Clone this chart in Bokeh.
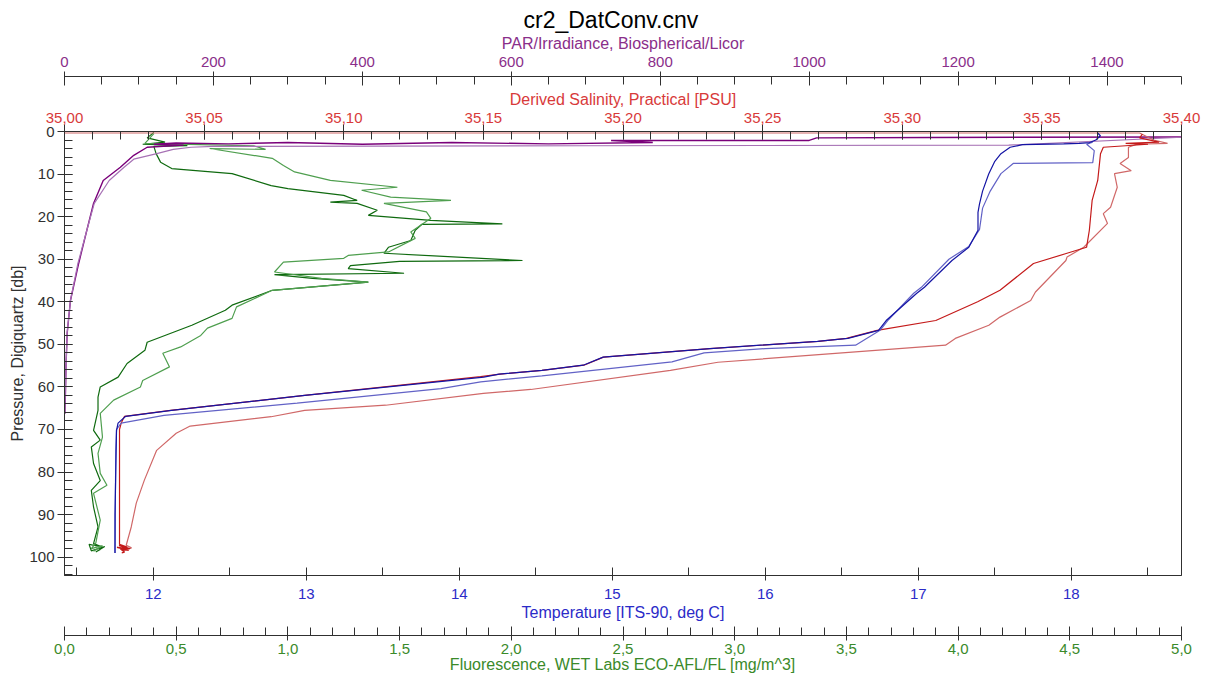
from bokeh.plotting import figure
from bokeh.models import Range1d, LinearAxis, FixedTicker, CustomJSTickFormatter
from bokeh.embed import file_html
from bokeh.resources import INLINE

FONT = "Liberation Sans"

# ---------------- data (pressure [db], value) ----------------
# Temperature [ITS-90, deg C]
temp1_p = [0.3, 1.0, 2.0, 2.6, 2.8, 2.9, 3.1, 3.7, 5.2, 7.0, 10.0, 14.0, 17.0, 19.0, 23.2, 27.2, 30.3,
           36.6, 38.0, 44.4, 46.7, 48.6, 49.3, 51.0, 53.0, 54.9, 56.1, 57.0, 57.7, 62.0, 65.5, 66.9,
           68.5, 70.2, 80.0, 90.0, 99.0]
temp1_v = [18.17, 18.19, 18.16, 18.12, 18.05, 17.95, 17.68, 17.60, 17.54, 17.50, 17.46, 17.42, 17.40,
           17.39, 17.39, 17.33, 17.22, 17.04, 16.99, 16.79, 16.74, 16.54, 16.34, 15.64, 14.94, 14.81,
           14.54, 14.26, 14.16, 12.99, 12.12, 11.82, 11.77, 11.76, 11.755, 11.75, 11.75]
temp2_p = [2.5, 3.0, 4.5, 7.3, 7.5, 9.9, 14.0, 18.0, 23.0, 27.0, 30.0, 36.6, 38.0, 44.4, 46.7, 50.2,
           51.0, 52.0, 54.1, 57.4, 58.8, 60.4, 63.8, 66.7, 68.5, 70.0, 75.0, 99.0]
temp2_v = [18.14, 18.10, 18.15, 18.14, 17.62, 17.54, 17.47, 17.42, 17.40, 17.33, 17.20, 17.02, 16.97,
           16.80, 16.75, 16.59, 16.00, 15.60, 15.39, 14.54, 14.14, 13.88, 12.94, 12.07, 11.79, 11.76,
           11.755, 11.75]

# Derived Salinity, Practical [PSU]
sal1_p = [0.6, 1.5, 2.5, 2.8, 3.0, 3.7, 5.2, 11.5, 16.2, 23.2, 27.2, 28.6, 31.0, 37.3, 40.0, 44.4,
          46.7, 48.6, 49.3, 51.0, 53.0, 54.9, 56.1, 57.0, 57.6, 62.0, 65.5, 66.9, 68.5, 70.0, 90.0,
          97.0, 97.6, 97.3, 98.0, 97.7, 98.4, 98.1, 98.8, 99.0]
sal1_v = [35.386, 35.385, 35.392, 35.380, 35.388, 35.372, 35.371, 35.370, 35.368, 35.367,
          35.366, 35.359, 35.347, 35.335, 35.327, 35.312, 35.291, 35.280, 35.270, 35.231, 35.193,
          35.186, 35.171, 35.156, 35.149, 35.086, 35.038, 35.0215, 35.0203, 35.0197, 35.0197,
          35.0197, 35.0225, 35.0195, 35.0235, 35.0188, 35.0230, 35.0200, 35.0215, 35.0205]
sal2_p = [0.35, 0.35, 2.0, 2.8, 3.0, 3.7, 6.1, 7.5, 9.2, 9.9, 13.1, 17.8, 19.3, 21.6, 27.2, 29.5,
          30.3, 37.7, 39.7, 43.6, 45.5, 48.6, 50.2, 54.2, 56.1, 60.6, 61.5, 64.3, 65.5, 67.0, 69.2,
          70.9, 74.9, 81.9, 87.3, 92.9, 97.2, 97.8, 98.5]
sal2_v = [34.90, 35.385, 35.390, 35.395, 35.384, 35.381, 35.381, 35.378, 35.382, 35.376, 35.377,
          35.3746, 35.372, 35.3735, 35.365, 35.359, 35.3586, 35.3477, 35.346, 35.335, 35.331, 35.319,
          35.3155, 35.234, 35.217, 35.167, 35.150, 35.115, 35.086, 35.074, 35.045, 35.040, 35.033,
          35.0286, 35.0257, 35.0239, 35.0221, 35.0240, 35.0208]

# PAR/Irradiance, Biospherical/Licor
par1_p = [1.3, 1.4, 1.5, 2.1, 2.1, 2.6, 2.9, 2.6, 3.0, 2.6, 2.9, 2.7, 3.0, 3.2, 3.7, 5.6, 8.4, 11.5,
          16.9, 23.2, 31.0, 39.7, 47.4, 55.0, 60.0, 66.3]
par1_v = [1520, 1165, 1010, 1000, 734, 790, 650, 520, 400, 300, 220, 150, 120, 160, 111, 93, 75, 52,
          39, 30, 19, 8, 3.6, 2.0, 1.5, 0.5]
par2_p = [1.2, 3.2, 3.35, 3.5, 3.7, 4.2, 5.2, 6.5, 8.4, 11.5, 16.9, 23.2, 31.0, 39.7, 47.4, 60.0,
          66.0]
par2_v = [1520, 1268, 700, 200, 170, 146, 124, 93, 80, 60, 40, 30, 18, 8, 3.5, 1.2, 0.4]

# Fluorescence, WET Labs ECO-AFL/FL [mg/m^3]
fl1_p = [0.2, 1.5, 2.5, 3.0, 3.3, 3.5, 5.2, 7.2, 8.7, 9.9, 12.7, 13.4, 15.0, 16.2, 16.6, 16.9, 18.5,
         19.7, 20.9, 21.7, 21.8, 23.2, 25.6, 27.2, 28.6, 30.3, 30.5, 31.5, 32.2, 33.3, 33.6, 34.5,
         35.4, 37.3, 40.8, 42.0, 45.5, 49.5, 51.4, 54.5, 57.7, 60.0, 62.4, 65.5, 70.2, 72.5, 74.1,
         78.0, 82.0, 84.3, 88.2, 92.9, 96.8, 97.6, 97.0, 98.5, 97.5, 98.8, 98.2]
fl1_v = [0.40, 0.37, 0.45, 0.35, 0.55, 0.40, 0.41, 0.43, 0.48, 0.75, 0.925, 1.00, 1.25, 1.31, 1.19,
         1.31, 1.40, 1.36, 1.64, 1.96, 1.60, 1.57, 1.55, 1.45, 1.43, 2.05, 1.50, 1.28, 1.27, 1.52,
         0.94, 1.11, 1.36, 0.93, 0.75, 0.72, 0.57, 0.37, 0.36, 0.28, 0.24, 0.16, 0.15, 0.15, 0.13,
         0.16, 0.12, 0.13, 0.16, 0.12, 0.13, 0.15, 0.13, 0.17, 0.11, 0.12, 0.18, 0.14, 0.16]
fl2_p = [0.5, 2.8, 3.4, 4.2, 4.0, 6.3, 8.0, 9.5, 11.5, 13.1, 13.8, 15.4, 16.2, 16.9, 18.9, 20.4, 23.6,
         25.1, 28.3, 29.1, 29.8, 30.7, 33.0, 34.5, 35.4, 37.3, 41.2, 43.9, 46.2, 47.9, 50.6, 52.1,
         55.3, 58.5, 60.0, 63.1, 66.2, 71.8, 75.6, 80.3, 83.1, 85.0, 91.3, 96.7, 98.0, 97.3, 98.6,
         97.9]
fl2_v = [0.40, 0.36, 0.85, 0.90, 0.65, 0.93, 0.98, 1.03, 1.19, 1.49, 1.33, 1.46, 1.73, 1.43, 1.62,
         1.64, 1.55, 1.57, 1.45, 1.27, 1.25, 0.98, 0.94, 1.15, 1.36, 0.93, 0.77, 0.75, 0.64, 0.61,
         0.52, 0.44, 0.47, 0.35, 0.34, 0.22, 0.16, 0.17, 0.15, 0.16, 0.19, 0.13, 0.16, 0.14, 0.12,
         0.17, 0.13, 0.15]

temp_ticks = [12, 13, 14, 15, 16, 17, 18]
sal_ticks = [35.00, 35.05, 35.10, 35.15, 35.20, 35.25, 35.30, 35.35, 35.40]
par_ticks = [0, 200, 400, 600, 800, 1000, 1200, 1400]
fl_ticks = [0.0, 0.5, 1.0, 1.5, 2.0, 2.5, 3.0, 3.5, 4.0, 4.5, 5.0]
pres_ticks = [0, 10, 20, 30, 40, 50, 60, 70, 80, 90, 100]

# ---------------- figure ----------------
p = figure(width=1208, height=682, output_backend="svg", toolbar_location=None,
           x_range=Range1d(11.42, 18.72), y_range=Range1d(104.3, 0),
           min_border_left=64, min_border_right=27, min_border_top=131, min_border_bottom=107)
p.extra_x_ranges = {"sal": Range1d(35.0, 35.4), "par": Range1d(0, 1500), "fl": Range1d(0, 5)}
p.grid.visible = False
p.outline_line_color = "#303030"
p.background_fill_color = "white"
p.border_fill_color = "white"

p.title.text = "cr2_DatConv.cnv"
p.title.align = "left"
p.title.offset = 459
p.title.standoff = -2
p.title.text_font = FONT
p.title.text_font_size = "23px"
p.title.text_font_style = "normal"
p.title.text_color = "black"

AX = "#303030"


def style(ax, color, tin, tout, minin):
    ax.axis_line_color = AX
    ax.major_tick_line_color = AX
    ax.minor_tick_line_color = AX
    ax.major_tick_in = tin
    ax.major_tick_out = tout
    ax.minor_tick_in = minin
    ax.minor_tick_out = 0
    ax.major_label_text_color = color
    ax.axis_label_text_color = color
    ax.major_label_text_font = FONT
    ax.axis_label_text_font = FONT
    ax.major_label_text_font_size = "15px"
    ax.axis_label_text_font_size = "16px"
    ax.axis_label_text_font_style = "normal"


def spacer(range_name, tick, size):
    # an empty axis used only to open a gap between two stacked axes
    ax = LinearAxis(x_range_name=range_name, ticker=FixedTicker(ticks=[tick], minor_ticks=[]))
    ax.axis_line_color = None
    ax.major_tick_line_color = None
    ax.minor_tick_line_color = None
    ax.major_tick_in = 0
    ax.major_tick_out = size
    ax.minor_tick_out = 0
    ax.major_label_standoff = 0
    ax.major_label_text_font_size = "0px"
    ax.major_label_text_alpha = 0
    ax.axis_label_standoff = 0
    return ax


# temperature (bottom, main)
tax = p.xaxis[0]
tax.ticker = FixedTicker(ticks=temp_ticks, minor_ticks=[t - 0.5 for t in temp_ticks] + [18.5])
tax.axis_label = "Temperature [ITS-90, deg C]"
style(tax, "#2b2bc8", 8, 5, 8)
tax.major_label_standoff = 8
tax.axis_label_standoff = 2

p.add_layout(spacer("fl", 2.5, 12), "below")

# fluorescence (bottom, second)
fax = LinearAxis(x_range_name="fl", axis_label="Fluorescence, WET Labs ECO-AFL/FL [mg/m^3]")
fax.ticker = FixedTicker(ticks=fl_ticks, minor_ticks=[i / 10 for i in range(51)])
fax.formatter = CustomJSTickFormatter(code="return tick.toFixed(1).replace('.', ',');")
style(fax, "#3a8a2a", 9, 5, 8)
fax.major_label_standoff = 3
fax.axis_label_standoff = -1
p.add_layout(fax, "below")

# salinity (top, first)
sax = LinearAxis(x_range_name="sal", axis_label="Derived Salinity, Practical [PSU]")
sax.ticker = FixedTicker(ticks=sal_ticks, minor_ticks=[35 + i / 100 for i in range(41)])
sax.formatter = CustomJSTickFormatter(code="return tick.toFixed(2).replace('.', ',');")
style(sax, "#d83a3a", 8, 7, 8)
sax.major_label_standoff = 2
sax.axis_label_standoff = 2
p.add_layout(sax, "above")

p.add_layout(spacer("par", 750, 11), "above")

# PAR (top, second)
pax = LinearAxis(x_range_name="par", axis_label="PAR/Irradiance, Biospherical/Licor")
pax.ticker = FixedTicker(ticks=par_ticks, minor_ticks=[i * 50 for i in range(31)])
pax.formatter = CustomJSTickFormatter(code="return tick.toFixed(0);")
style(pax, "#8a2e8a", 9, 5, 8)
pax.major_label_standoff = 5
pax.axis_label_standoff = 2
p.add_layout(pax, "above")

# pressure (left)
yax = p.yaxis[0]
yax.ticker = FixedTicker(ticks=pres_ticks, minor_ticks=[i * 2 for i in range(53)])
yax.axis_label = "Pressure, Digiquartz [db]"
style(yax, "#303030", 8, 7, 8)
yax.major_label_standoff = 3
yax.axis_label_standoff = 0

# ---------------- lines ----------------
p.line(fl1_v, fl1_p, x_range_name="fl", line_color="#0f6a0f", line_width=1.2)
p.line(fl2_v, fl2_p, x_range_name="fl", line_color="#4f9f4f", line_width=1.2)
p.line(par1_v, par1_p, x_range_name="par", line_color="#7a007a", line_width=1.4)
p.line(par2_v, par2_p, x_range_name="par", line_color="#a772b5", line_width=1.2)
p.line(sal2_v, sal2_p, x_range_name="sal", line_color="#d06868", line_width=1.2)
p.line(sal1_v, sal1_p, x_range_name="sal", line_color="#c41a1a", line_width=1.2)
p.line(temp2_v, temp2_p, line_color="#6262c6", line_width=1.2)
p.line(temp1_v, temp1_p, line_color="#1414a4", line_width=1.2)

open("out.html", "w").write(file_html(p, INLINE))
